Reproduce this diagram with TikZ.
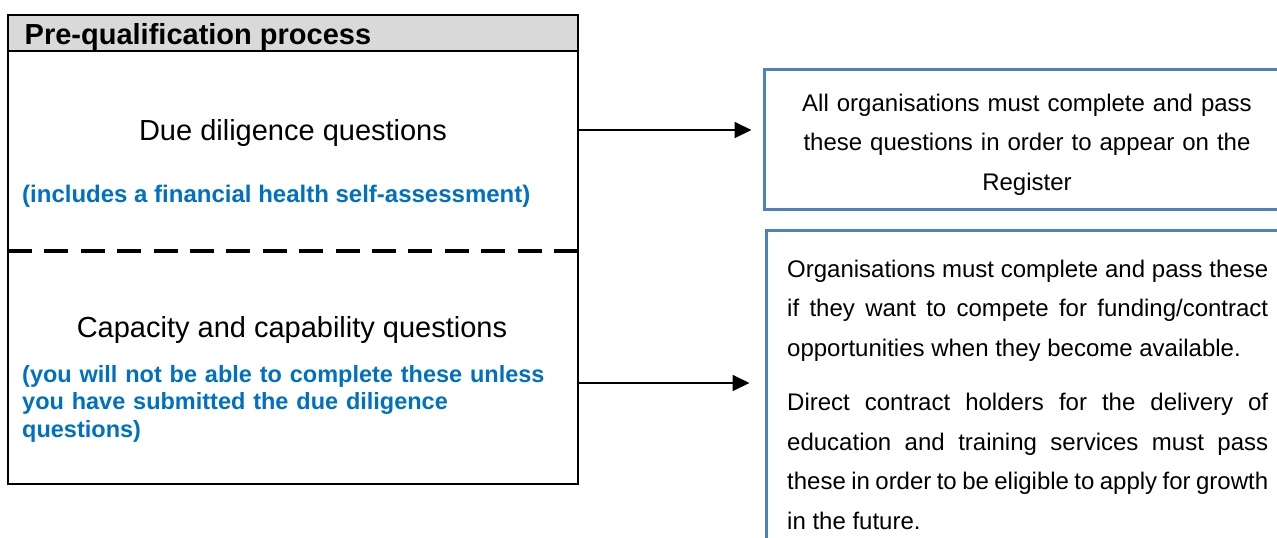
\documentclass[tikz,border=0pt]{standalone}
\usepackage{fontspec}
\setmainfont{Liberation Sans}
\usetikzlibrary{positioning,arrows.meta}
\definecolor{hdrgray}{HTML}{D9D9D9}
\definecolor{noteblue}{HTML}{0070C0}
\definecolor{boxblue}{HTML}{4F81BD}
\tikzset{outerbox/.style={draw,line width=2.2pt,inner sep=0pt},
	hdrbox/.style={draw,fill=hdrgray,line width=2.2pt,inner sep=0pt},
	bluebox/.style={draw=boxblue,line width=3pt,inner sep=0pt},
	big/.style={font=\fontsize{29}{34}\selectfont,inner sep=0pt},
	note/.style={font=\fontsize{24}{27.6}\selectfont\bfseries,text=noteblue,inner sep=0pt},
	info/.style={font=\fontsize{24}{39.7}\selectfont,inner sep=0pt},
	conn/.style={-{Triangle[length=17pt,width=16pt]},line width=1.8pt},}

\begin{document}
\begin{tikzpicture}[x=1pt,y=-1pt]
	\useasboundingbox (0,0) rectangle (1277,538);
	\clip (0,0) rectangle (1277,538);
	\node[outerbox,minimum width=570pt,minimum height=469pt] (pq) at (293,249.5) {};
	\node[hdrbox,minimum width=570pt,minimum height=36pt] (hdr) at (293,33) {};
	\node[big,font=\fontsize{29}{34}\selectfont\bfseries,anchor=base west] (hdrtxt) at (24.5,44) {Pre-qualification process};
	\node[big,anchor=base] (dd) at (293,140.5) {Due diligence questions};
	\node[note,anchor=base west] (ddnote) at (22,202) {(includes a financial health self-assessment)};
	\draw[line width=3.2pt,dash pattern=on 24pt off 12.4pt] (8,251) -- (578,251);
	\node[big,anchor=base] (cc) at (292,337) {Capacity and capability questions};
	\node[note,font=\fontsize{23.5}{27.6}\selectfont\bfseries,anchor=base west,text width=540pt,align=left] (ccnote) at (22,382)
		{(you will not be able to complete these unless\\ you have submitted the due diligence\\ questions)};
	
	\node[bluebox,minimum width=536pt,minimum height=140pt] (reg) at (1032,139) {};
	\node[info,anchor=base,text width=500pt,align=center] (regtxt) at (1027,111)
		{All organisations must complete and pass\\ these questions in order to appear on the\\ Register};
	\node[bluebox,minimum width=534pt,minimum height=370pt] (cap) at (1033,415) {};
	\node[info,anchor=base west,text width=481pt,align=justify] (captxt) at (787,277)
		{\setlength{\parskip}{14.3pt}\hyphenpenalty=10000
		Organisations must complete and pass these\linebreak if they want to compete for funding/contract\linebreak opportunities when they become available.\par
		Direct contract holders for the delivery of\linebreak education and training services must pass\linebreak these in order to be eligible to apply for growth\linebreak in the future.};
	
	\coordinate (a1) at (578,130);
	\coordinate (a2) at (578,383);
	\draw[conn,shorten >=11pt] (a1) -- (a1 -| reg.west);
	\draw[conn,shorten >=15pt] (a2) -- (a2 -| cap.west);
\end{tikzpicture}
\end{document}
